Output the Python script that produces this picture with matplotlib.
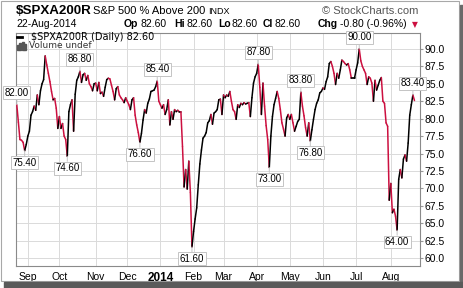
import numpy as np
import pandas as pd
import matplotlib
matplotlib.use("Agg")
import matplotlib.pyplot as plt
from matplotlib.collections import LineCollection
from matplotlib.patches import Rectangle
from matplotlib.lines import Line2D

# ---------------- data ----------------
holidays = ["2013-09-02", "2013-11-28", "2013-12-25", "2014-01-01", "2014-01-20",
            "2014-02-17", "2014-04-18", "2014-05-26", "2014-07-04"]
dates = pd.bdate_range("2013-08-22", "2014-08-22")
dates = dates[~dates.isin(pd.to_datetime(holidays))]

values = [
    82.0, 79.5, 77.0, 76.9, 76.6, 75.4, 76.3, 77.5, 78.2, 80.5,
    81.0, 81.8, 81.2, 83.4, 82.0, 84.0, 85.0, 85.6, 89.0, 87.7,
    86.5, 85.3, 83.9, 82.7, 82.9, 81.5, 78.6, 80.3, 78.6, 79.3,
    77.5, 77.0, 74.6, 81.0, 82.0, 82.7, 78.2, 83.5, 85.5, 86.0,
    86.8, 85.2, 86.3, 86.5, 85.5, 86.2, 85.0, 84.6, 84.0, 85.0,
    85.1, 84.0, 85.2, 83.6, 83.8, 83.2, 84.5, 85.6, 85.8, 85.7,
    84.8, 83.9, 82.7, 84.3, 84.6, 83.4, 83.0, 82.7, 82.3, 83.0,
    82.5, 82.0, 81.3, 82.7, 83.0, 80.5, 79.1, 78.0, 76.6, 77.9,
    79.8, 81.3, 80.8, 82.2, 82.8, 83.9, 84.0, 84.1, 84.6, 85.4,
    82.5, 82.0, 81.5, 82.0, 80.6, 81.3, 82.7, 79.1, 81.0, 79.9,
    81.3, 81.0, 81.2, 81.0, 81.0, 76.0, 70.2, 72.7, 69.9, 73.9,
    69.4, 61.6, 63.8, 65.6, 67.2, 70.5, 73.5, 75.5, 77.2, 77.5,
    78.0, 79.4, 79.7, 80.6, 79.2, 80.8, 81.0, 81.3, 82.7, 82.8,
    80.6, 83.4, 83.0, 83.4, 83.2, 83.9, 82.5, 81.3, 81.0, 79.9,
    82.0, 81.6, 82.2, 82.0, 82.3, 82.1, 82.2, 82.3, 80.3, 83.0,
    85.1, 86.0, 86.5, 87.8, 84.5, 80.6, 85.1, 81.8, 79.0, 77.0,
    73.0, 77.5, 80.3, 82.0, 82.9, 83.9, 82.9, 81.3, 79.4, 78.5,
    77.5, 80.1, 80.6, 79.9, 80.6, 79.4, 78.2, 78.9, 79.6, 79.9,
    83.8, 81.8, 80.4, 78.7, 77.5, 79.4, 76.8, 78.4, 79.9, 81.3,
    82.2, 82.7, 83.7, 83.9, 84.4, 84.2, 85.3, 86.0, 87.9, 88.2,
    87.5, 86.5, 84.9, 86.5, 85.8, 87.0, 88.4, 88.2, 87.9, 87.7,
    87.9, 87.0, 85.8, 85.8, 85.8, 87.0, 88.0, 90.0, 88.3, 87.5,
    87.0, 86.5, 84.9, 86.0, 85.8, 85.1, 82.5, 85.5, 84.1, 84.8,
    85.5, 85.9, 82.5, 82.2, 79.4, 78.9, 68.3, 70.7, 66.5, 67.0,
    66.0, 64.0, 71.3, 72.7, 71.5, 74.2, 74.8, 73.9, 76.5, 80.5,
    82.0, 83.4, 82.6,
]
values = values[:len(dates)]

# labelled extremes: (index, above?)
label_idx = [0, 5, 32, 40, 78, 89, 111, 153, 160, 180, 186, 217, 241, 251]
label_above = [True, False, False, True, False, True, False, True, False, True, False, True, False, True]

month_labels = ["Sep", "Oct", "Nov", "Dec", "2014", "Feb", "Mar", "Apr", "May", "Jun", "Jul", "Aug"]

yticks = [60.0, 62.5, 65.0, 67.5, 70.0, 72.5, 75.0, 77.5, 80.0, 82.5, 85.0, 87.5, 90.0]

# ---------------- figure ----------------
W, H = 464, 288
fig = plt.figure(figsize=(W / 100, H / 100), dpi=100)
fig.patch.set_facecolor("white")

def fx(px):
    return px / W

def fy(py):
    return 1 - py / H

ax = fig.add_axes([fx(16), fy(266), fx(420) - fx(16), fy(33) - fy(266)])

x = np.arange(len(values))
y = np.array(values)
pts = np.column_stack([x, y])
segs = np.stack([pts[:-1], pts[1:]], axis=1)
red = "#cc1040"
cols = [red if y[k + 1] < y[k] else "black" for k in range(len(y) - 1)]
lc = LineCollection(segs, colors=cols, linewidths=1.1, zorder=3, capstyle="round", joinstyle="round")
ax.add_collection(lc)

ax.set_xlim(-0.5, 255.5)
ax.set_ylim(58.86, 92.29)

# month ticks
per = dates.to_period("M")
tick_pos = [int(np.argmax(per == p)) for p in per.unique() if p >= pd.Period("2013-09", "M")]
ax.set_xticks(tick_pos)
ax.set_xticklabels(month_labels, fontsize=7.5, family="Liberation Sans")
for lab in ax.get_xticklabels():
    if lab.get_text() == "2014":
        lab.set_fontweight("bold")
        lab.set_fontsize(8.5)
ax.set_yticks(yticks)
ax.set_yticklabels([f"{t:.1f}" for t in yticks], fontsize=7.5, family="Liberation Sans")
ax.yaxis.tick_right()
ax.tick_params(axis="y", length=2, color="#999999", pad=1.5)
ax.tick_params(axis="x", length=0, pad=4.5)
ax.grid(True, color="#dadada", lw=0.7)
ax.set_axisbelow(True)
for s in ax.spines.values():
    s.set_color("#8a8a8a")
    s.set_linewidth(0.8)

# labels on extremes
for idx, above in zip(label_idx, label_above):
    v = values[idx]
    ax.annotate(f"{v:.2f}", xy=(idx, v), xytext=(0, 8.5 if above else -8.5),
                textcoords="offset points", ha="center", va="center",
                fontsize=7, family="Liberation Sans", zorder=6, annotation_clip=False,
                bbox=dict(boxstyle="square,pad=0.15", fc="white", ec="#c4c4c4", lw=0.7),
                arrowprops=dict(arrowstyle="-", color="#c4c4c4", lw=0.7, shrinkA=0, shrinkB=0))

# legend inside the plot
fig.add_artist(Line2D([fx(16.5), fx(22.5)], [fy(36.5), fy(36.5)], color="black", lw=2))
fig.text(fx(31), fy(37), "\\$SPXA200R (Daily) 82.60", fontsize=7, family="DejaVu Sans",
         va="center", ha="left")
for k, hgt in enumerate([5, 7, 8, 6]):
    fig.add_artist(Rectangle((fx(17 + k * 2.5), fy(50)), fx(1.8), hgt / H, color="#555555",
                             transform=fig.transFigure))
fig.text(fx(29.5), fy(46), "Volume undef", fontsize=6.5, family="DejaVu Sans", color="#333333",
         va="center", ha="left")

# header
fig.text(fx(16), fy(11), "\\$SPXA200R", fontsize=9.6, weight="bold", family="Liberation Sans",
         va="center", ha="left")
fig.text(fx(93), fy(11), "S&P 500 % Above 200", fontsize=8, family="Liberation Sans",
         va="center", ha="left")
fig.text(fx(208), fy(11.5), "INDX", fontsize=6.5, family="Liberation Sans", va="center", ha="left")
fig.text(fx(418), fy(11), "© StockCharts.com", fontsize=8, family="Liberation Sans",
         color="#555555", va="center", ha="right")
fig.text(fx(16), fy(24), "22-Aug-2014", fontsize=7.5, family="Liberation Sans", va="center", ha="left")
parts = [(124, "Op", True), (140.5, "82.60", False), (174, "Hi", True), (186.5, "82.60", False),
         (218, "Lo", True), (231.5, "82.60", False), (263, "Cl", True), (275, "82.60", False),
         (318, "Chg", True), (340.5, "-0.80 (-0.96%)", False)]
for px, t, b in parts:
    fig.text(fx(px), fy(24), t, fontsize=7.5, family="Liberation Sans",
             weight="bold" if b else "normal", va="center", ha="left")
fig.text(fx(415), fy(24.5), "▼", fontsize=5.5, family="DejaVu Sans", color=red, va="center", ha="center")

# outer frame and shadow
fig.add_artist(Rectangle((fx(0.5), fy(281)), fx(459), 280.5 / H, fill=False, ec="#a8a8a8", lw=0.8,
                         transform=fig.transFigure))
fig.add_artist(Rectangle((fx(460), fy(287)), fx(4), 282 / H, color="#6a6a6a", transform=fig.transFigure))
fig.add_artist(Rectangle((fx(4), fy(288)), fx(460), 6 / H, color="#5a5a5a", transform=fig.transFigure))

fig.savefig("out.png", dpi=100)
